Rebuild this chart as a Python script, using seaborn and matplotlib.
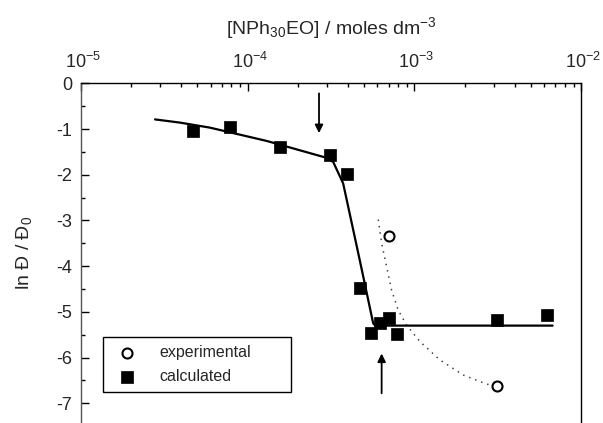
import numpy as np
import pandas as pd
import matplotlib
matplotlib.use("Agg")
import matplotlib.pyplot as plt
import matplotlib.ticker as mticker
import matplotlib.transforms as mtransforms
import seaborn as sns

# ---- data ----
calc_x = [4.69e-5, 7.85e-5, 1.56e-4, 3.12e-4, 3.93e-4, 4.71e-4, 5.46e-4,
          6.21e-4, 7.06e-4, 7.82e-4, 3.13e-3, 6.25e-3]
calc_y = [-1.04, -0.96, -1.39, -1.56, -1.98, -4.47, -5.47,
          -5.25, -5.13, -5.49, -5.18, -5.07]

exp_x = [7.06e-4, 3.13e-3]
exp_y = [-3.33, -6.62]

fit_x = [2.79e-5, 3.94e-5, 5.95e-5, 1.30e-4, 2.91e-4, 3.26e-4, 3.74e-4,
         4.71e-4, 5.66e-4, 5.83e-4, 6.73e-3]
fit_y = [-0.79, -0.86, -0.97, -1.26, -1.62, -1.72, -2.19,
         -3.88, -5.25, -5.30, -5.30]

dot_x = [6.07e-4, 6.36e-4, 6.81e-4, 7.29e-4, 7.99e-4, 8.97e-4, 1.08e-3,
         1.42e-3, 1.96e-3, 2.71e-3, 3.13e-3]
dot_y = [-2.98, -3.50, -4.01, -4.52, -4.96, -5.29, -5.65,
         -6.05, -6.38, -6.58, -6.62]

# arrows: (x, y_tail, y_head)
arrow_down = (2.68e-4, -0.22, -1.09)
arrow_up = (6.36e-4, -6.78, -5.91)

x_label = "[NPh$_{30}$EO] / moles dm$^{-3}$"
y_label = "ln Đ / Đ$_0$"
legend_labels = ["experimental", "calculated"]
y_ticks = [0, -1, -2, -3, -4, -5, -6, -7]

# ---- style ----
sns.set_style("ticks")
plt.rcParams["font.family"] = ["Liberation Sans", "DejaVu Sans"]
plt.rcParams["mathtext.fontset"] = "custom"
plt.rcParams["mathtext.rm"] = "Liberation Sans"
plt.rcParams["mathtext.it"] = "Liberation Sans:italic"
plt.rcParams["mathtext.bf"] = "Liberation Sans:bold"
plt.rcParams["axes.unicode_minus"] = False

W, H = 603, 423
fig = plt.figure(figsize=(W / 100, H / 100), dpi=100)
ax = fig.add_axes([80.7 / W, 0.0, 500.6 / W, 339.7 / H])

fit_df = pd.DataFrame({"x": fit_x, "y": fit_y})
dot_df = pd.DataFrame({"x": dot_x, "y": dot_y})
calc_df = pd.DataFrame({"x": calc_x, "y": calc_y})
exp_df = pd.DataFrame({"x": exp_x, "y": exp_y})

sns.lineplot(data=dot_df, x="x", y="y", ax=ax, sort=False, estimator=None,
             color="#444444", linewidth=1.1, linestyle=(0, (1, 3.2)), zorder=2)
sns.lineplot(data=fit_df, x="x", y="y", ax=ax, sort=False, estimator=None,
             color="black", linewidth=1.6, zorder=3)
sns.scatterplot(data=calc_df, x="x", y="y", ax=ax, marker="s", s=72,
                color="black", edgecolor="black", linewidth=0.5, zorder=4,
                label=legend_labels[1])
sns.scatterplot(data=exp_df, x="x", y="y", ax=ax, marker="o", s=52,
                facecolor="white", edgecolor="black", linewidth=1.5, zorder=5,
                label=legend_labels[0])

for (xa, yt, yh) in [arrow_down, arrow_up]:
    ax.annotate("", xy=(xa, yh), xytext=(xa, yt),
                arrowprops=dict(arrowstyle="-|>", color="black", lw=1.3,
                                mutation_scale=12, shrinkA=0, shrinkB=0))

ax.set_xscale("log")
ax.set_xlim(1e-5, 1e-2)
ax.set_ylim(-7.43, 0)
ax.set_yticks(y_ticks)
ax.set_yticklabels([str(t) for t in y_ticks])
ax.yaxis.set_minor_locator(mticker.MultipleLocator(0.5))
ax.xaxis.set_major_locator(mticker.LogLocator(base=10, numticks=10))
ax.xaxis.set_minor_locator(mticker.LogLocator(base=10, subs=np.arange(2, 10), numticks=20))
ax.xaxis.set_minor_formatter(mticker.NullFormatter())

ax.xaxis.tick_top()
ax.xaxis.set_label_position("top")
ax.set_xlabel(x_label, fontsize=14, labelpad=13)
ax.set_ylabel(y_label, fontsize=14, labelpad=16)

ax.tick_params(axis="both", which="major", direction="in", length=6, width=1,
               labelsize=13, color="black")
ax.tick_params(axis="both", which="minor", direction="in", length=3, width=1,
               color="black")
ax.tick_params(axis="x", which="both", top=True, bottom=False, pad=8)
ax.tick_params(axis="y", which="both", left=True, right=False, pad=6)

for side in ["top", "right", "left"]:
    ax.spines[side].set_visible(True)
    ax.spines[side].set_color("black")
    ax.spines[side].set_linewidth(1.0)
ax.spines["left"].set_color("#555555")
ax.spines["bottom"].set_visible(False)

# shift x tick labels slightly so that the "10" sits over the tick
offset = mtransforms.ScaledTranslation(1.5 / 72, 0, fig.dpi_scale_trans)
for lab in ax.xaxis.get_majorticklabels():
    lab.set_transform(lab.get_transform() + offset)

handles, labels = ax.get_legend_handles_labels()
order = [labels.index(legend_labels[0]), labels.index(legend_labels[1])]
leg = ax.legend([handles[i] for i in order], [labels[i] for i in order],
                loc="lower left", bbox_to_anchor=(0.045, 0.092, 0.376, 0.167),
                mode="expand", borderaxespad=0, fontsize=11.5, frameon=True,
                fancybox=False, edgecolor="black", framealpha=1,
                handlelength=2.0, handletextpad=1.0, borderpad=0.5,
                labelspacing=0.55)
leg.get_frame().set_linewidth(1.0)

fig.savefig("out.png", dpi=100)
